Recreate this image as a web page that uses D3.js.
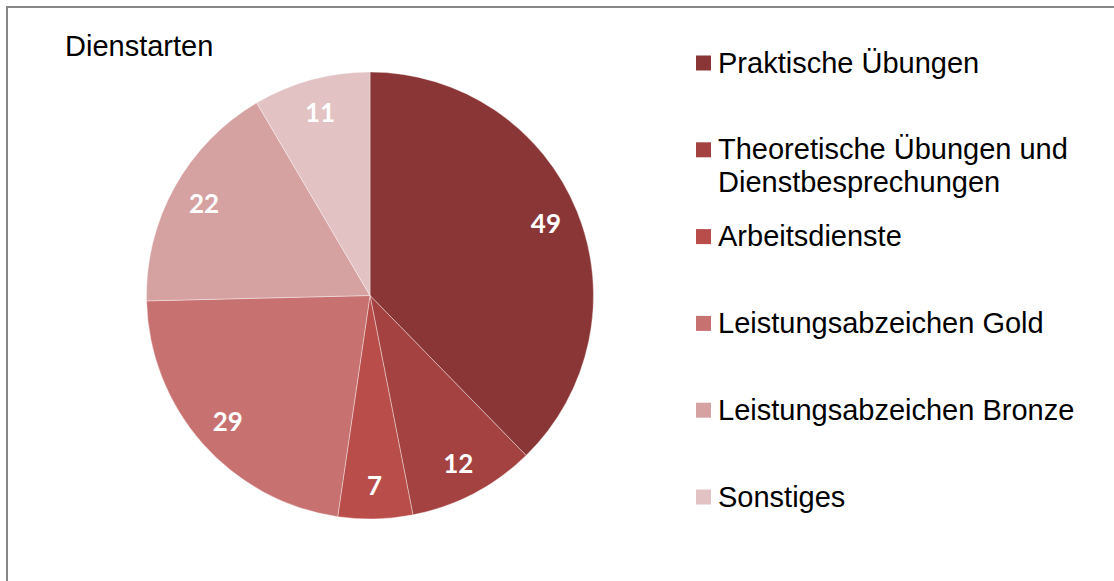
<!DOCTYPE html>
<html>
<head>
<meta charset="utf-8">
<script src="https://cdn.jsdelivr.net/npm/d3@7"></script>
<style>
  body { margin: 0; background: #fff; }
  #chart-area { width: 1114px; height: 581px; }
</style>
</head>
<body>
<div id="chart-area"></div>
<script>
// Dienstarten (Anzahl)
const categories = [
  "Praktische Übungen",
  "Theoretische Übungen und Dienstbesprechungen",
  "Arbeitsdienste",
  "Leistungsabzeichen Gold",
  "Leistungsabzeichen Bronze",
  "Sonstiges"
];
const values = [49, 12, 7, 29, 22, 11];
// legend lines, wrapped like the original
const legendLines = [
  ["Praktische Übungen"],
  ["Theoretische Übungen und", "Dienstbesprechungen"],
  ["Arbeitsdienste"],
  ["Leistungsabzeichen Gold"],
  ["Leistungsabzeichen Bronze"],
  ["Sonstiges"]
];
const colors = ["#8b3636", "#a44242", "#b84d4a", "#c77170", "#d6a1a1", "#e2c2c3"];

class PieVis {
  constructor(parentElement) {
    this.parentElement = parentElement;
    this.initVis();
  }

  initVis() {
    let vis = this;
    vis.width = 1114;
    vis.height = 581;

    vis.svg = d3
      .select("#" + vis.parentElement)
      .append("svg")
      .attr("width", vis.width)
      .attr("height", vis.height);

    // chart frame (runs off the right/bottom edge)
    vis.svg
      .append("rect")
      .attr("x", 7)
      .attr("y", 7)
      .attr("width", vis.width + 20)
      .attr("height", vis.height + 20)
      .attr("fill", "none")
      .attr("stroke", "#878787")
      .attr("stroke-width", 2);

    vis.svg
      .append("text")
      .attr("x", 65)
      .attr("y", 56)
      .attr("font-family", "Liberation Sans, Arial, sans-serif")
      .attr("font-size", 29)
      .attr("fill", "#000")
      .text("Dienstarten");

    vis.radius = 223.5;
    vis.cx = 370;
    vis.cy = 295.5;

    vis.color = d3.scaleOrdinal().domain(categories).range(colors);

    vis.pie = d3.pie().sort(null).value((d) => d.value);
    vis.arc = d3.arc().innerRadius(0).outerRadius(vis.radius);
    vis.labelArc = d3
      .arc()
      .innerRadius(vis.radius * 0.85)
      .outerRadius(vis.radius * 0.85);

    vis.data = categories.map((c, i) => ({ name: c, value: values[i] }));

    vis.g = vis.svg
      .append("g")
      .attr("transform", `translate(${vis.cx},${vis.cy})`);

    vis.g
      .selectAll("path")
      .data(vis.pie(vis.data))
      .enter()
      .append("path")
      .attr("d", vis.arc)
      .attr("fill", (d) => vis.color(d.data.name))
      .attr("stroke", "#ffffff")
      .attr("stroke-opacity", 0.5)
      .attr("stroke-width", 0.75);

    vis.g
      .selectAll(".slice-label")
      .data(vis.pie(vis.data))
      .enter()
      .append("text")
      .attr("class", "slice-label")
      .attr("transform", (d) => `translate(${vis.labelArc.centroid(d)})`)
      .attr("text-anchor", "middle")
      .attr("dy", "0.36em")
      .attr("font-family", "Lato, Open Sans, sans-serif")
      .attr("font-weight", "bold")
      .attr("font-size", 26)
      .attr("fill", "#ffffff")
      .text((d) => d.data.value);

    // legend
    vis.legendY = d3
      .scalePoint()
      .domain(categories)
      .range([63, 497]);

    let legend = vis.svg
      .append("g")
      .selectAll("g")
      .data(vis.data)
      .enter()
      .append("g")
      .attr("transform", (d) => `translate(696,${vis.legendY(d.name)})`);

    legend
      .append("rect")
      .attr("x", 0)
      .attr("y", -7.5)
      .attr("width", 15)
      .attr("height", 15)
      .attr("fill", (d) => vis.color(d.name));

    legend
      .append("text")
      .attr("font-family", "Liberation Sans, Arial, sans-serif")
      .attr("font-size", 29)
      .attr("fill", "#000")
      .selectAll("tspan")
      .data((d, i) => legendLines[i])
      .enter()
      .append("tspan")
      .attr("x", 22)
      .attr("y", (d, i) => 9.5 + i * 33)
      .text((d) => d);
  }
}

new PieVis("chart-area");
</script>
</body>
</html>
